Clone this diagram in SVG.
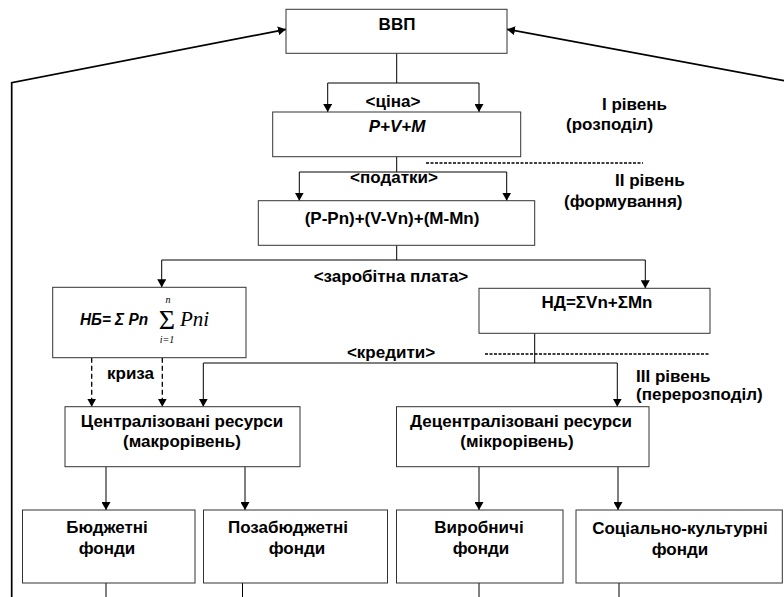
<svg xmlns="http://www.w3.org/2000/svg" width="784" height="597" viewBox="0 0 784 597">
<defs>
<marker id="arr" markerUnits="userSpaceOnUse" markerWidth="8" markerHeight="9" viewBox="0 0 8 9" refX="8" refY="4.5" orient="auto">
<path d="M0,0 L8,4.5 L0,9 Z" fill="#000"/>
</marker>
<style>
.box{fill:#fff;stroke:#333;stroke-width:1}
.ln{fill:none;stroke:#000;stroke-width:1}
.ar{fill:none;stroke:#000;stroke-width:1;marker-end:url(#arr)}
.da{fill:none;stroke:#000;stroke-width:1.3;stroke-dasharray:5 3;marker-end:url(#arr)}
.fb{fill:none;stroke:#000;stroke-width:1.7}
.sep{fill:none;stroke:#000;stroke-width:1.3;stroke-dasharray:3 1.5}
text{font-family:"Liberation Sans Narrow","Liberation Sans",Arial,sans-serif;font-weight:bold;font-size:17px;fill:#000}
.c{text-anchor:middle}
.bi{font-style:italic}
.m{font-family:"Liberation Serif","Times New Roman",serif;font-weight:normal;font-style:italic}
</style>
</defs>
<g id="connectors">
<path class="ln" d="M396.7,53 V83 M327.7,83 H479"/>
<path class="ar" d="M327.7,83 V112"/>
<path class="ar" d="M479,83 V112"/>
<path class="ln" d="M396.7,157 V172 M299.3,172 H506.7"/>
<path class="ar" d="M299.3,172 V200.7"/>
<path class="ar" d="M506.7,172 V200.7"/>
<path class="ln" d="M396.7,245 V260 M161.7,260 H645.3"/>
<path class="ar" d="M161.7,260 V287.3"/>
<path class="ar" d="M645.3,260 V288.3"/>
<path class="ln" d="M534.7,333 V363 M203.3,363 H617.3"/>
<path class="ar" d="M203.3,363 V406.7"/>
<path class="ar" d="M617.3,363 V406.7"/>
<path class="da" d="M91.7,357.7 V406.7"/>
<path class="da" d="M162.3,357.7 V406.7"/>
<path class="ar" d="M106,466.7 V510"/>
<path class="ar" d="M245,466.7 V510"/>
<path class="ar" d="M479,466.7 V510"/>
<path class="ar" d="M618,466.7 V510"/>
<path class="ln" d="M106,583 V597 M242.5,583 V597 M479,583 V597 M619,583 V597"/>
<path class="fb" d="M11.7,597 V82.7 L286,29.3" marker-end="url(#arr)"/>
<path class="fb" d="M784,80.7 L507,29.3" marker-end="url(#arr)"/>
<path class="sep" d="M426,163 H643"/>
<path class="sep" d="M485,354 H709"/>
</g>
<g id="vvp"><rect class="box" x="286" y="9.3" width="221" height="44"/><text class="c" x="397" y="30">ВВП</text></g>
<g id="pvm"><rect class="box" x="272.7" y="112" width="248" height="44.7"/><text class="c bi" x="397" y="132">P+V+M</text></g>
<g id="ppn"><rect class="box" x="258.3" y="200.7" width="276.4" height="44.6"/><text class="c" x="392" y="224">(P-Pn)+(V-Vn)+(M-Mn)</text></g>
<g id="nb"><rect class="box" x="52.7" y="287.3" width="193.3" height="70.4"/>
<text class="bi" x="80" y="325" style="font-size:16px" textLength="68" lengthAdjust="spacingAndGlyphs">НБ= Σ Pn</text>
<text class="m c" x="167" y="329" style="font-style:normal;font-size:28px">Σ</text>
<text class="m c" x="168" y="303" style="font-size:10px">n</text>
<text class="m c" x="167" y="343" style="font-size:10px">i=1</text>
<text class="m" x="180" y="326" style="font-size:21px">Pni</text></g>
<g id="nd"><rect class="box" x="479" y="288.3" width="231" height="45"/><text class="c" x="597" y="308">НД=ΣVn+ΣMn</text></g>
<g id="central"><rect class="box" x="65" y="406.7" width="235" height="60"/><text class="c" x="182" y="427">Централізовані ресурси</text><text class="c" x="182" y="447">(макрорівень)</text></g>
<g id="decentral"><rect class="box" x="396.5" y="406.7" width="252.5" height="60"/><text class="c" x="521" y="427">Децентралізовані ресурси</text><text class="c" x="517" y="447">(мікрорівень)</text></g>
<g id="budget"><rect class="box" x="22.5" y="510" width="172.5" height="73"/><text class="c" x="107" y="533">Бюджетні</text><text class="c" x="107" y="554">фонди</text></g>
<g id="offbudget"><rect class="box" x="203.5" y="510" width="184" height="73"/><text class="c" x="288" y="533">Позабюджетні</text><text class="c" x="297" y="554">фонди</text></g>
<g id="prod"><rect class="box" x="396.5" y="510" width="166.5" height="73"/><text class="c" x="479" y="533">Виробничі</text><text class="c" x="481" y="554">фонди</text></g>
<g id="social"><rect class="box" x="576" y="510" width="206.3" height="73"/><text class="c" x="680" y="534">Соціально-культурні</text><text class="c" x="680" y="555">фонди</text></g>
<g id="labels">
<text class="c" x="393" y="107">&lt;ціна&gt;</text>
<text x="602" y="110">I рівень</text>
<text x="566" y="130">(розподіл)</text>
<text class="c" x="394" y="183">&lt;податки&gt;</text>
<text x="615" y="186">II рівень</text>
<text x="564" y="207">(формування)</text>
<text class="c" x="391" y="282">&lt;заробітна плата&gt;</text>
<text class="c" x="391" y="358">&lt;кредити&gt;</text>
<text x="636" y="382">III рівень</text>
<text x="636" y="400">(перерозподіл)</text>
<text x="107" y="379">криза</text>
</g>
</svg>
